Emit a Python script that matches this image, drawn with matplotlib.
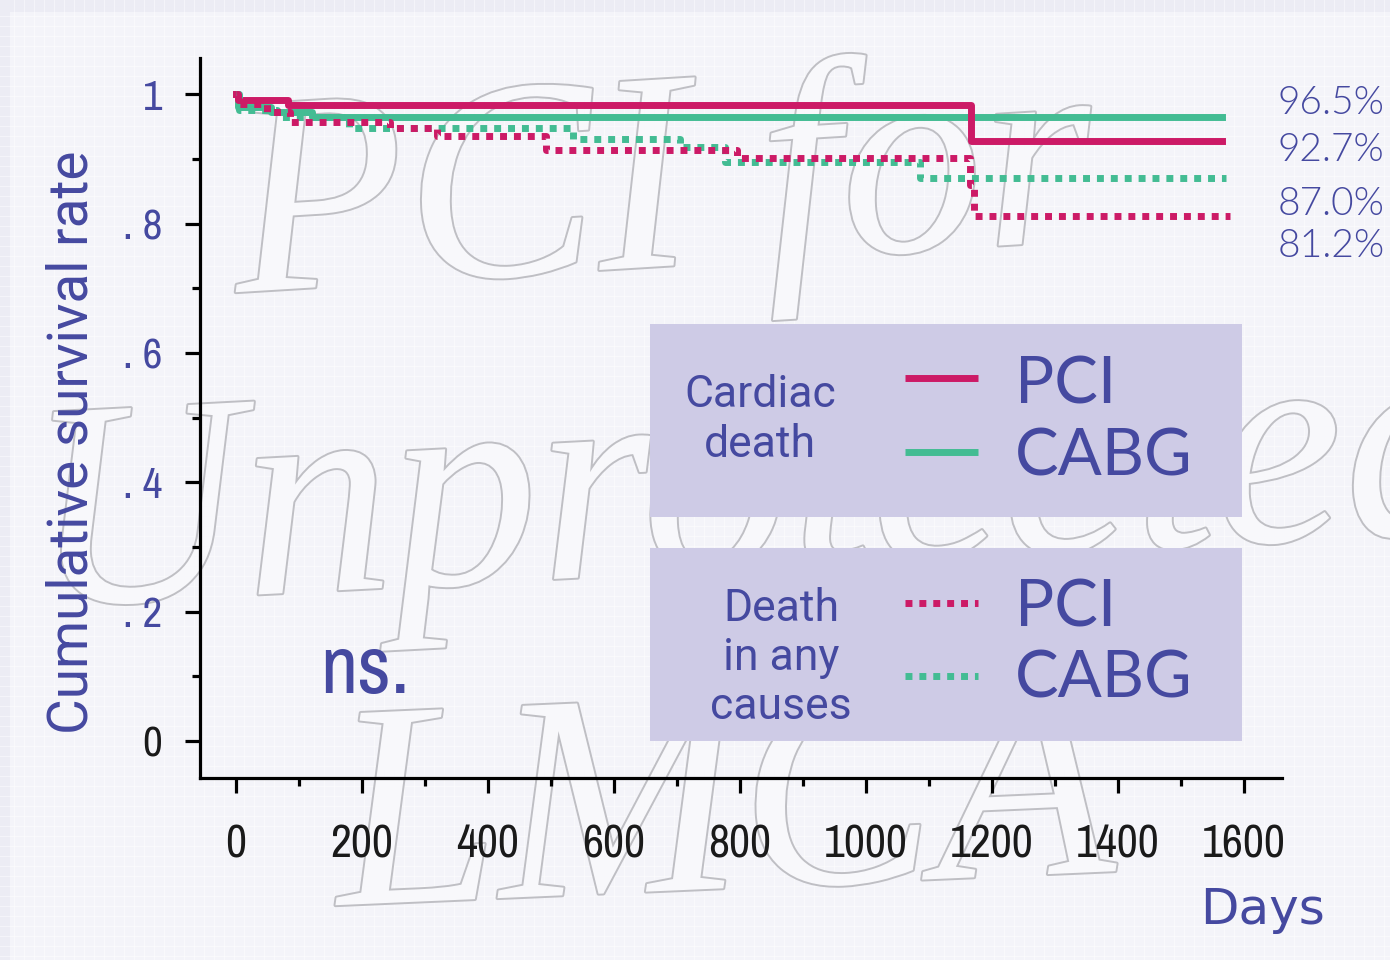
import numpy as np
import matplotlib
matplotlib.use('Agg')
import matplotlib.pyplot as plt
import matplotlib.patheffects as pe
from matplotlib.patches import Rectangle

# Kaplan-Meier step data (days, cumulative survival)
pci_cardiac_days = [0, 4, 82, 1166, 1565]
pci_cardiac_surv = [1.0, 0.991, 0.984, 0.927, 0.927]

cabg_cardiac_days = [0, 4, 55, 120, 1565]
cabg_cardiac_surv = [1.0, 0.981, 0.973, 0.965, 0.965]

pci_all_days = [0, 3, 50, 86, 244, 319, 492, 795, 1165, 1172, 1578]
pci_all_surv = [1.0, 0.985, 0.972, 0.957, 0.948, 0.936, 0.914, 0.902, 0.86, 0.812, 0.812]

cabg_all_days = [0, 5, 65, 180, 535, 705, 776, 1086, 1571]
cabg_all_surv = [1.0, 0.976, 0.965, 0.948, 0.931, 0.919, 0.896, 0.870, 0.870]

end_labels = ['96.5%', '92.7%', '87.0%', '81.2%']

x_ticks = [0, 200, 400, 600, 800, 1000, 1200, 1400, 1600]
y_ticks = [0, 0.2, 0.4, 0.6, 0.8, 1.0]
y_ticklabels = ['0', '. 2', '. 4', '. 6', '. 8', '1']

MAGENTA = '#cc1a66'
GREEN = '#43bc93'
BLUE = '#4549a0'
BOX = '#cecbe6'
NARROW = ['Archivo Narrow', 'DejaVu Sans']
ROUND = ['Lato', 'DejaVu Sans']
PLAIN = ['Roboto', 'DejaVu Sans']

fig = plt.figure(figsize=(13.9, 9.6), dpi=100)
fig.patch.set_facecolor('#ececf4')

# background panel with faint graph-paper texture
bg = fig.add_axes([0, 0, 1, 1], zorder=-10)
bg.set_xlim(0, 1390)
bg.set_ylim(960, 0)
bg.axis('off')
bg.add_patch(Rectangle((10, 12), 1380, 948, facecolor='#f4f4f9', edgecolor='none'))
for gx in np.arange(14, 1390, 10):
    bg.axvline(gx, color='white', lw=0.6, alpha=0.55 if gx % 30 else 0.9)
for gy in np.arange(16, 960, 10):
    bg.axhline(gy, color='white', lw=0.6, alpha=0.55 if gy % 30 else 0.9)

# outlined watermark
wm = dict(family='Liberation Serif', style='italic', color='#f8f8fb', zorder=-5,
          path_effects=[pe.withStroke(linewidth=2.8, foreground='#bfbfc4')])
fig.text(225 / 1390, 1 - 292 / 960, 'PCI for', fontsize=205, rotation=3.5, **wm)
fig.text(25 / 1390, 1 - 606 / 960, 'Unprotected', fontsize=212, rotation=3, **wm)
fig.text(330 / 1390, 1 - 905 / 960, 'LMCA', fontsize=210, rotation=2.5, **wm)

ax = fig.add_axes([200 / 1390, 1 - 778 / 960, 1082 / 1390, 720 / 960])
ax.patch.set_visible(False)
ax.set_xlim(-57, 1660)
ax.set_ylim(-0.057, 1.056)

for s in ['top', 'right']:
    ax.spines[s].set_visible(False)
for s in ['left', 'bottom']:
    ax.spines[s].set_linewidth(2.3)
    ax.spines[s].set_color('black')

ax.set_xticks(x_ticks)
ax.set_xticks(np.arange(100, 1700, 200), minor=True)
ax.set_yticks(y_ticks)
ax.set_yticks(np.arange(0.1, 1.0, 0.2), minor=True)
ax.set_yticklabels(y_ticklabels)
ax.tick_params(which='major', length=11, width=2.3, direction='out')
ax.tick_params(which='minor', length=6, width=2.3, direction='out')
ax.tick_params(axis='x', which='major', pad=22, labelsize=33, labelcolor='#1a1a1a')
ax.tick_params(axis='y', which='major', pad=16, labelsize=31, labelcolor=BLUE)
for lab in ax.get_xticklabels():
    lab.set_family(NARROW)
for lab in ax.get_yticklabels():
    lab.set_family(NARROW)
    lab.set_fontweight('bold')
ax.get_yticklabels()[0].set_color('#1a1a1a')

# survival curves
ax.step(cabg_cardiac_days, cabg_cardiac_surv, where='post', color=GREEN, lw=5)
ax.step(pci_cardiac_days, pci_cardiac_surv, where='post', color=MAGENTA, lw=5)
dot = (0, (1, 1))
ax.step(cabg_all_days, cabg_all_surv, where='post', color=GREEN, lw=5, linestyle=dot)
ax.step(pci_all_days, pci_all_surv, where='post', color=MAGENTA, lw=5, linestyle=dot)

# end-of-follow-up rates
label_y = [0.9375, 0.8722, 0.7972, 0.7389]
for txt, yy in zip(end_labels, label_y):
    ax.text(0.9963, yy, txt, transform=ax.transAxes, fontsize=28, color=BLUE,
            family=ROUND, fontweight=300, va='center', ha='left', clip_on=False)

# legend panels
for y0 in [0.3625, 0.0514]:
    ax.add_patch(Rectangle((0.4159, y0), 0.5471, 0.2681, transform=ax.transAxes,
                           facecolor=BOX, edgecolor='none', zorder=5))

ax.text(0.5176, 0.4972, 'Cardiac\ndeath', transform=ax.transAxes, fontsize=32,
        color=BLUE, family=PLAIN, ha='center', va='center', linespacing=1.25, zorder=6)
ax.text(0.537, 0.1667, 'Death\nin any\ncauses', transform=ax.transAxes, fontsize=32,
        color=BLUE, family=PLAIN, ha='center', va='center', linespacing=1.22, zorder=6)

samples = [(0.5556, MAGENTA, '-', 'PCI', 0.5458),
           (0.4528, GREEN, '-', 'CABG', 0.4458),
           (0.2431, MAGENTA, dot, 'PCI', 0.2361),
           (0.1417, GREEN, dot, 'CABG', 0.1375)]
for ly, col, ls, name, ty in samples:
    ax.plot([0.6516, 0.7190], [ly, ly], transform=ax.transAxes, color=col, lw=5,
            linestyle=ls, solid_capstyle='butt', zorder=6)
    ax.text(0.7532, ty, name, transform=ax.transAxes, fontsize=47, color=BLUE,
            family=ROUND, ha='left', va='center', zorder=6)

ax.text(0.1109, 0.15, 'ns.', transform=ax.transAxes, fontsize=59, color=BLUE,
        family=NARROW, ha='left', va='center')

fig.text(72 / 1390, 1 - 442 / 960, 'Cumulative survival rate', rotation=90,
         fontsize=39.5, color=BLUE, family=PLAIN, ha='center', va='center')
fig.text(1200 / 1390, 1 - 910 / 960, 'Days', fontsize=36, color=BLUE,
         family=['DejaVu Sans'], ha='left', va='center')

fig.savefig('out.png', dpi=100, facecolor=fig.get_facecolor())
